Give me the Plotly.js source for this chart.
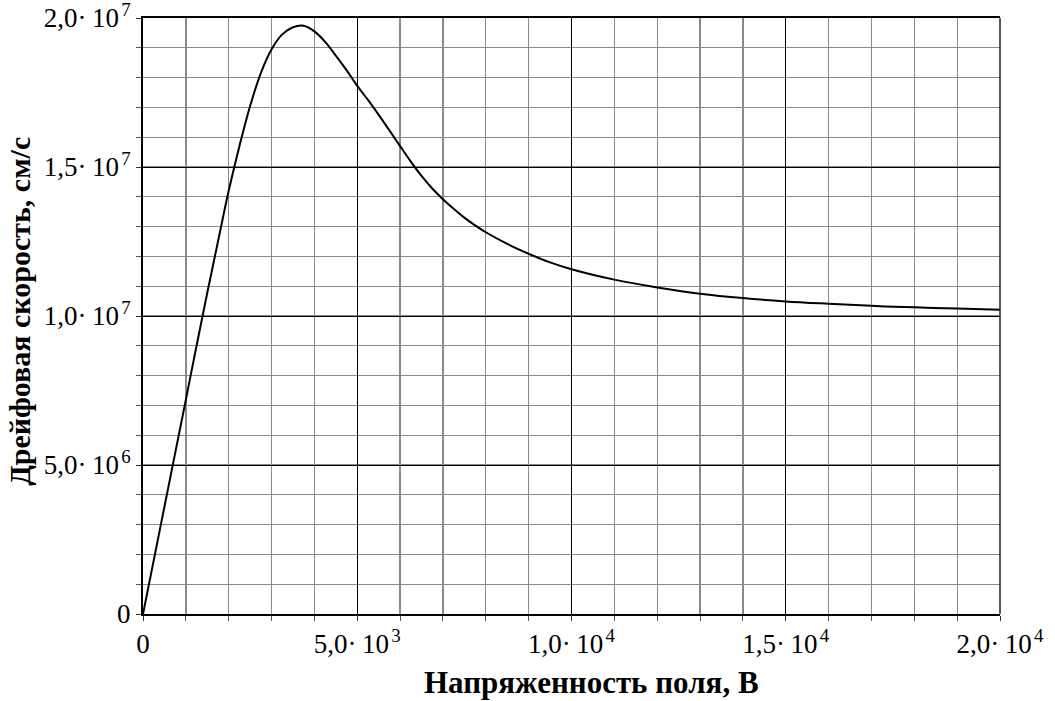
<!DOCTYPE html>
<html><head><meta charset="utf-8">
<script src="https://cdn.plot.ly/plotly-3.0.1.min.js"></script>
<style>html,body{margin:0;padding:0;background:#fff}</style>
</head><body><div id="chart" style="width:1055px;height:701px"></div>
<script>
// Field strength, V/cm
const fieldStrength = [0, 500, 1000, 1250, 1500, 1750, 2000, 2250, 2500, 2750, 3000, 3250, 3500, 3750, 4000, 4250, 4500, 4750, 5000, 5250, 5500, 5750, 6000, 6250, 6500, 6750, 7000, 7250, 7500, 7750, 8000, 8500, 9000, 9500, 10000, 11000, 12000, 13000, 14000, 15000, 16000, 17000, 18000, 19000, 20000];
// Drift velocity, cm/s
const driftVelocity = [0, 3.6e6, 7.19e6, 9.0e6, 10.78e6, 12.5e6, 14.2e6, 15.7e6, 17.05e6, 18.15e6, 18.95e6, 19.45e6, 19.69e6, 19.74e6, 19.55e6, 19.2e6, 18.74e6, 18.25e6, 17.72e6, 17.25e6, 16.75e6, 16.23e6, 15.7e6, 15.18e6, 14.7e6, 14.28e6, 13.92e6, 13.6e6, 13.3e6, 13.04e6, 12.81e6, 12.42e6, 12.09e6, 11.8e6, 11.57e6, 11.22e6, 10.96e6, 10.75e6, 10.6e6, 10.49e6, 10.41e6, 10.34e6, 10.29e6, 10.25e6, 10.21e6];

const xTickVals = [0, 5000, 10000, 15000, 20000];
const xTickText = ['0', '5,0·\u200910\u200a<sup>3</sup>', '1,0·\u200910\u200a<sup>4</sup>', '1,5·\u200910\u200a<sup>4</sup>', '2,0·\u200910\u200a<sup>4</sup>'];
const yTickVals = [0, 5e6, 1e7, 1.5e7, 2e7];
const yTickText = ['0', '5,0·\u200910\u200a<sup>6</sup>', '1,0·\u200910\u200a<sup>7</sup>', '1,5·\u200910\u200a<sup>7</sup>', '2,0·\u200910\u200a<sup>7</sup>'];
const xTitle = 'Напряженность поля, В';
const yTitle = 'Дрейфовая скорость, см/с';

const serif = "'Liberation Serif', 'Times New Roman', serif";

const trace = {
  x: fieldStrength, y: driftVelocity, type: 'scatter', mode: 'lines',
  line: {color: '#000', width: 2, shape: 'spline', smoothing: 1},
  hoverinfo: 'skip'
};

const axisCommon = {
  showgrid: true, gridcolor: '#000', gridwidth: 1,
  zeroline: false, showline: true, linecolor: '#000', linewidth: 2,
  ticks: 'outside', ticklen: 5, tickcolor: '#333', tickwidth: 1,
  tickmode: 'array', ticklabeloverflow: 'allow',
  tickfont: {family: serif, size: 27, color: '#000'},
  fixedrange: true
};

const layout = {
  width: 1055, height: 701,
  margin: {l: 143, r: 55, t: 18, b: 87},
  paper_bgcolor: '#fff', plot_bgcolor: '#fff',
  showlegend: false,
  font: {family: serif, color: '#000'},
  xaxis: Object.assign({}, axisCommon, {
    range: [0, 20000], tickvals: xTickVals, ticktext: xTickText, mirror: true,
    minor: {tickmode: 'linear', tick0: 0, dtick: 1000, showgrid: true, gridcolor: '#8a8a8a', gridwidth: 1.3,
            ticks: 'outside', ticklen: 5, tickcolor: '#555', tickwidth: 1}
  }),
  yaxis: Object.assign({}, axisCommon, {
    range: [0, 2e7], tickvals: yTickVals, ticktext: yTickText, mirror: false,
    minor: {tickmode: 'linear', tick0: 0, dtick: 1e6, showgrid: true, gridcolor: '#8a8a8a', gridwidth: 1.3,
            ticks: 'outside', ticklen: 5, tickcolor: '#555', tickwidth: 1}
  }),
  shapes: [
    {type: 'line', xref: 'paper', yref: 'paper', x0: 1, x1: 1, y0: 0, y1: 1, line: {color: '#222', width: 1.5}}
  ],
  annotations: [
    {text: '<b>' + xTitle + '</b>', xref: 'paper', yref: 'paper', x: (591 - 143) / 857, y: -(683 - 614.3) / 596.3,
     xanchor: 'center', yanchor: 'middle', showarrow: false, font: {family: serif, size: 31, color: '#000'}},
    {text: '<b>' + yTitle + '</b>', xref: 'paper', yref: 'paper', x: (20 - 143) / 857, y: (614.3 - 312) / 596.3,
     xanchor: 'center', yanchor: 'middle', textangle: -90, showarrow: false, font: {family: serif, size: 30, color: '#000'}}
  ]
};

Plotly.newPlot('chart', [trace], layout, {displayModeBar: false, staticPlot: true});
</script>
</body></html>
